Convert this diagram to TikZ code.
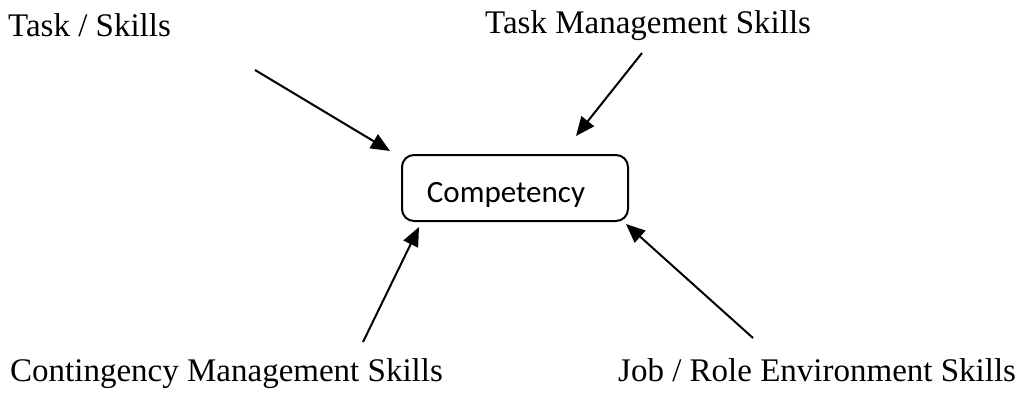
\documentclass[tikz,border=0pt]{standalone}
\usepackage{fontspec}
\setmainfont{Liberation Serif}
\newfontfamily\boxfont{Carlito}
\usepackage{tikz}
\usetikzlibrary{arrows.meta}

\begin{document}
\begin{tikzpicture}[x=1pt,y=-1pt]
				\tikzstyle{skill}=[anchor=base west,inner sep=0pt,font=\fontsize{33}{40}\selectfont]
				\tikzstyle{core}=[draw=black,line width=2pt,rounded corners=12pt,minimum width=226pt,minimum height=66pt,inner sep=0pt,text height=32pt,text depth=4pt,font=\boxfont\fontsize{31}{38}\selectfont]
				\tikzstyle{feed}=[line width=2pt,-{Triangle[length=19pt,width=16pt]}]
				\useasboundingbox (0,0) rectangle (1021,392);
				\node[core](c) at (515,188) {Competency\kern18pt};
				\node[skill](l1) at (8,36) {Task / Skills};
				\node[skill](l2) at (485,33) {Task Management Skills};
				\node[skill](l3) at (10,381) {Contingency Management Skills};
				\node[skill](l4) at (618,381) {Job / Role Environment Skills};
				\coordinate (s1) at (255,70);
				\coordinate (t1) at (390,151);
				\coordinate (s2) at (642,53);
				\coordinate (t2) at (576,136);
				\coordinate (s3) at (363,342);
				\coordinate (t3) at (419,227);
				\coordinate (s4) at (753,338);
				\coordinate (t4) at (626,224);
				\draw[feed] (s1) -- (t1);
				\draw[feed] (s2) -- (t2);
				\draw[feed] (s3) -- (t3);
				\draw[feed] (s4) -- (t4);
			\end{tikzpicture}
\end{document}
